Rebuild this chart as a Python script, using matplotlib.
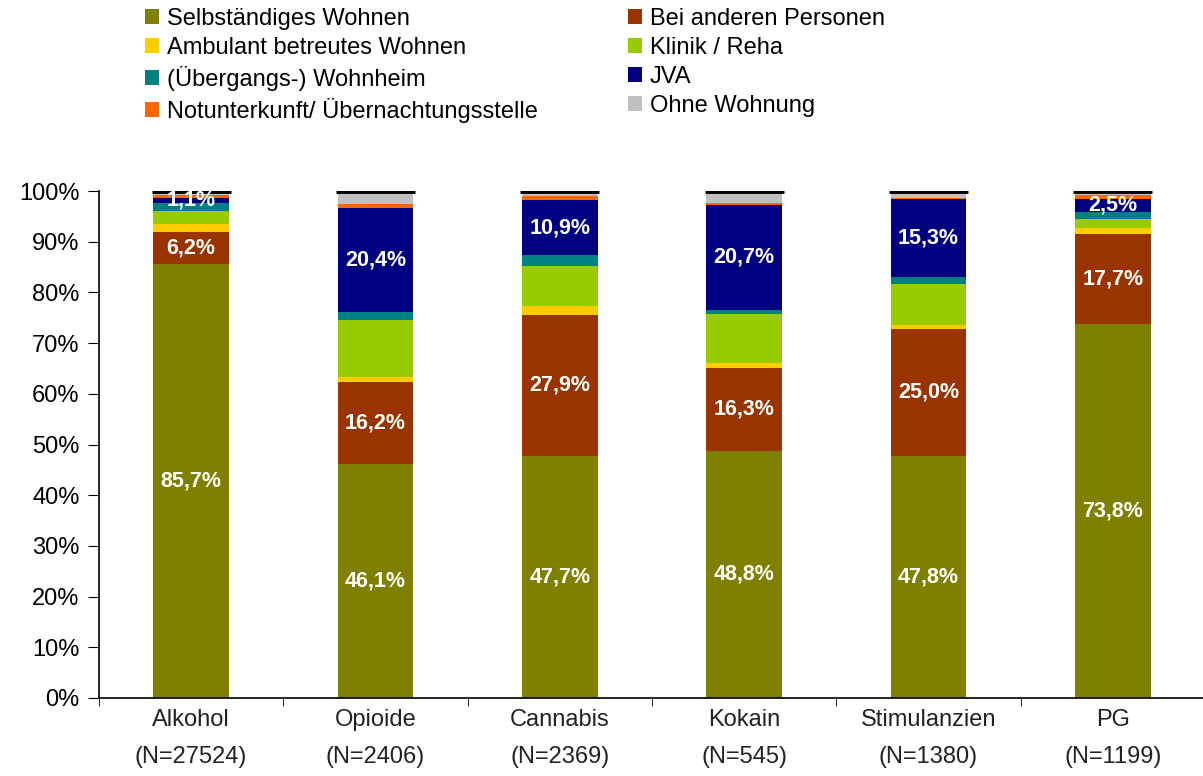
import matplotlib.pyplot as plt
import numpy as np

plt.rcParams["font.family"] = ["Liberation Sans", "DejaVu Sans"]

categories = ["Alkohol\n(N=27524)", "Opioide\n(N=2406)", "Cannabis\n(N=2369)",
              "Kokain\n(N=545)", "Stimulanzien\n(N=1380)", "PG\n(N=1199)"]

series = ["Selbständiges Wohnen", "Bei anderen Personen", "Ambulant betreutes Wohnen",
          "Klinik / Reha", "(Übergangs-) Wohnheim", "JVA",
          "Notunterkunft/ Übernachtungsstelle", "Ohne Wohnung"]

selbst = [85.7, 46.1, 47.7, 48.8, 47.8, 73.8]
andere = [6.2, 16.2, 27.9, 16.3, 25.0, 17.7]
ambulant = [1.5, 1.0, 1.8, 1.0, 0.8, 1.3]
klinik = [2.6, 11.2, 7.9, 9.7, 8.0, 1.7]
wohnheim = [1.6, 1.7, 2.0, 0.8, 1.5, 1.4]
jva = [1.1, 20.4, 10.9, 20.7, 15.3, 2.5]
notunterkunft = [0.6, 0.8, 0.8, 0.4, 0.2, 0.8]
ohne = [0.7, 2.6, 1.0, 2.3, 1.4, 0.8]

colors = ["#808000", "#993300", "#FFCC00", "#99CC00",
          "#008080", "#000080", "#FF6600", "#C0C0C0"]

values = [selbst, andere, ambulant, klinik, wohnheim, jva, notunterkunft, ohne]
labelled = {0, 1, 5}

fig = plt.figure(figsize=(12.03, 7.76), dpi=100)
ax = fig.add_axes([99 / 1203, 78 / 776, 1106 / 1203, 507 / 776])

x = np.arange(len(categories))
width = 0.41
bottom = np.zeros(len(categories))
handles = []
for i, (name, vals, c) in enumerate(zip(series, values, colors)):
    v = np.array(vals) / 100
    bars = ax.bar(x, v, width, bottom=bottom, color=c, label=name)
    handles.append(bars)
    if i in labelled:
        for xi, b, h in zip(x, bottom, v):
            ax.text(xi, b + h / 2, f"{h * 100:.1f}%".replace(".", ","),
                    ha="center", va="center", color="white",
                    fontsize=15.5, fontweight="bold")
    bottom += v

# black cap line at the top of each bar
ax.hlines(bottom, x - width / 2 - 0.01, x + width / 2 + 0.01, color="black", lw=3.5)

ax.set_xlim(-0.5, 5.5)
ax.set_ylim(0, 1)
ax.set_yticks(np.arange(0, 1.01, 0.1))
ax.set_yticklabels([f"{int(round(t * 100))}%" for t in np.arange(0, 1.01, 0.1)], fontsize=17)
ax.set_xticks(x)
ax.set_xticklabels(categories, fontsize=17, color="#222222", linespacing=1.9)
ax.set_xticks(np.arange(-0.5, 5.6, 1), minor=True)
ax.tick_params(axis="x", which="major", length=0, pad=8)
ax.tick_params(axis="x", which="minor", length=6, direction="out")
ax.tick_params(axis="y", length=8, direction="out", pad=6)
for s in ["top", "right"]:
    ax.spines[s].set_visible(False)
ax.spines["left"].set_linewidth(1.2)
ax.spines["bottom"].set_linewidth(1.2)
ax.spines["left"].set_bounds(0, 1)

order = [0, 2, 4, 6, 1, 3, 5, 7]
fig.legend([handles[i] for i in order], [series[i] for i in order],
           ncol=2, loc="upper left", bbox_to_anchor=(128 / 1203, 1.011),
           frameon=False, fontsize=17, handlelength=0.6, handleheight=0.6,
           handletextpad=0.35, labelspacing=0.3, columnspacing=3.8,
           borderpad=0.2)

fig.savefig("out.png", dpi=100)
